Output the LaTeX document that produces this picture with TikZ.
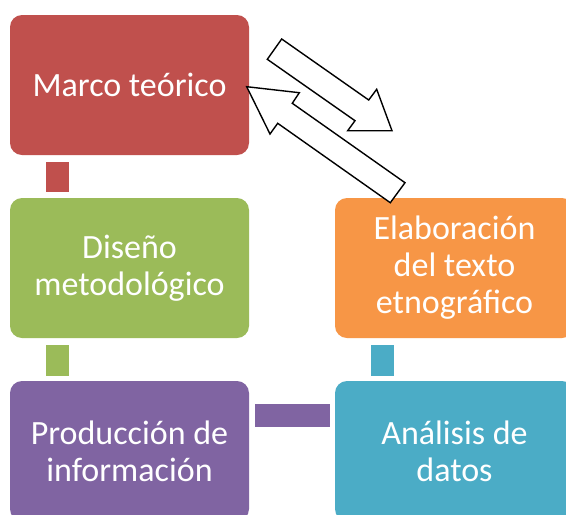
\documentclass[tikz,border=0pt]{standalone}
\usepackage{fontspec}
\setmainfont{Carlito}
\usetikzlibrary{calc}
\definecolor{cred}{HTML}{C0504D}
\definecolor{cgreen}{HTML}{9BBB59}
\definecolor{cpurple}{HTML}{8064A2}
\definecolor{corange}{HTML}{F79646}
\definecolor{cteal}{HTML}{4BACC6}
\tikzset{
  stagebox/.style={rectangle, rounded corners=12pt, minimum width=239pt, minimum height=140pt,
    inner sep=0pt, text=white, align=center, font=\fontsize{34}{37}\selectfont},
  blockarrow/.style={draw=black, fill=white, line width=1.4pt, line join=miter},
}
\begin{document}
\begin{tikzpicture}[x=1pt,y=-1pt]
\clip (0,0) rectangle (566,515);
\fill[white] (0,0) rectangle (566,515);
% boxes
\node[stagebox, fill=cred]    (marco) at (129.5,85)  {Marco teórico};
\node[stagebox, fill=cgreen]  (dis)   at (129.5,268) {Diseño\\metodológico};
\node[stagebox, fill=cpurple] (prod)  at (129.5,451) {Producción de\\información};
\node[stagebox, fill=corange] (elab)  at (454.5,268) {Elaboración\\del texto\\etnográfico};
\node[stagebox, fill=cteal]   (anal)  at (454.5,451) {Análisis de\\datos};
% connectors
\fill[cred]    ($(marco.south west)+(36,7)$) rectangle +(23,30);
\fill[cgreen]  ($(dis.south west)+(36,7)$) rectangle +(23,31);
\fill[cpurple] ($(prod.north east)+(6,23)$) rectangle ($(anal.north west)+(-5,46)$);
\fill[cteal]   ($(elab.south west)+(36,7)$) rectangle +(23,31);
% block arrows
\draw[blockarrow] (281.7,39) -- (368.7,100) -- (376.7,89.3) -- (392,130.7) -- (347.7,130.7)
  -- (355,120.7) -- (267.3,59.3) -- cycle;
\draw[blockarrow] (246.7,86.7) -- (299.3,92.7) -- (292.3,103.3) -- (405,182.7) -- (390.3,202.7)
  -- (277.7,123.3) -- (270,134) -- cycle;
\end{tikzpicture}
\end{document}
